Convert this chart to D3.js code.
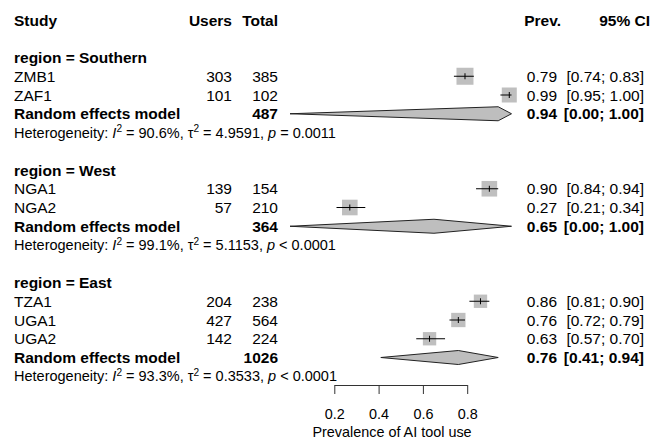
<!DOCTYPE html>
<html>
<head>
<meta charset="utf-8">
<script src="https://cdn.jsdelivr.net/npm/d3@7"></script>
<style>
  html, body { margin: 0; padding: 0; background: #fff; }
  svg { display: block; font-family: "Liberation Sans", Arial, sans-serif; }
</style>
</head>
<body>
<svg id="chart" width="653" height="443"></svg>
<script>
// Study-level data
const studies = ["ZMB1", "ZAF1", "NGA1", "NGA2", "TZA1", "UGA1", "UGA2"];
const studyRegion = ["Southern", "Southern", "West", "West", "East", "East", "East"];
const users = [303, 101, 139, 57, 204, 427, 142];
const totals = [385, 102, 154, 210, 238, 564, 224];
const prev = [0.79, 0.99, 0.90, 0.27, 0.86, 0.76, 0.63];
const lower = [0.74, 0.95, 0.84, 0.21, 0.81, 0.72, 0.57];
const upper = [0.83, 1.00, 0.94, 0.34, 0.90, 0.79, 0.70];
const weights = [18.5, 14.4, 15.6, 15.6, 11.4, 13.1, 11.4];

// Subgroup (random effects) results
const regions = ["Southern", "West", "East"];
const pooledTotal = [487, 364, 1026];
const pooledPrev = [0.94, 0.65, 0.76];
const pooledLower = [0.00, 0.00, 0.41];
const pooledUpper = [1.00, 1.00, 0.94];
const hetI2 = ["90.6%", "99.1%", "93.3%"];
const hetTau2 = ["4.9591", "5.1153", "0.3533"];
const hetP = ["= 0.0011", "< 0.0001", "< 0.0001"];

// Axis
const axisTicks = [0.2, 0.4, 0.6, 0.8];
const axisTitle = "Prevalence of AI tool use";

const svg = d3.select("#chart");
const fs = 15.5;      // table text
const fsHet = 14.5;   // heterogeneity statistics
const fsAxis = 14.4;  // axis labels and title
const rowH = 18.75;
const rowY = n => 20 + n * rowH;

const x = d3.scaleLinear().domain([0, 1]).range([290, 511.5]);
const sq = d3.scaleSqrt().domain([0, d3.max(weights)]).range([0, 17]);

const colStudy = 14, colUsers = 232, colTotal = 278, colPrev = 557, colCI = 644;
const fmt = d3.format(".2f");

function txt(g, xPos, y, s, anchor, bold) {
  return g.append("text")
    .attr("x", xPos).attr("y", y).attr("dy", "0.36em")
    .attr("text-anchor", anchor || "start")
    .attr("font-size", fs)
    .attr("font-weight", bold ? "bold" : "normal")
    .attr("fill", "#000")
    .text(s);
}

// Column headers
const head = svg.append("g");
txt(head, colStudy, rowY(0), "Study", "start", true);
txt(head, colUsers, rowY(0), "Users", "end", true);
txt(head, colTotal, rowY(0), "Total", "end", true);
txt(head, 561, rowY(0), "Prev.", "end", true);
txt(head, 650, rowY(0), "95% CI", "end", true);

let row = 2;
regions.forEach((reg, gi) => {
  const g = svg.append("g");
  txt(g, colStudy, rowY(row), "region = " + reg, "start", true);
  row++;

  studies.forEach((s, i) => {
    if (studyRegion[i] !== reg) return;
    const y = rowY(row);
    txt(g, colStudy, y, s);
    txt(g, colUsers, y, users[i], "end");
    txt(g, colTotal, y, totals[i], "end");
    txt(g, colPrev, y, fmt(prev[i]), "end");
    txt(g, colCI, y, "[" + fmt(lower[i]) + "; " + fmt(upper[i]) + "]", "end");

    const size = sq(weights[i]);
    g.append("rect")
      .attr("x", x(prev[i]) - size / 2).attr("y", y - size / 2)
      .attr("width", size).attr("height", size)
      .attr("fill", "#bfbfbf");
    g.append("line")
      .attr("x1", x(lower[i])).attr("x2", x(upper[i]))
      .attr("y1", y).attr("y2", y)
      .attr("stroke", "#000").attr("stroke-width", 1);
    g.append("line")
      .attr("x1", x(prev[i])).attr("x2", x(prev[i]))
      .attr("y1", y - 3).attr("y2", y + 3)
      .attr("stroke", "#000").attr("stroke-width", 1);
    row++;
  });

  // Random effects model row
  const y = rowY(row);
  txt(g, colStudy, y, "Random effects model", "start", true);
  txt(g, colTotal, y, pooledTotal[gi], "end", true);
  txt(g, colPrev, y, fmt(pooledPrev[gi]), "end", true);
  txt(g, colCI, y, "[" + fmt(pooledLower[gi]) + "; " + fmt(pooledUpper[gi]) + "]", "end", true);
  const h = 7;
  g.append("path")
    .attr("d", d3.line()([
      [x(pooledLower[gi]), y],
      [x(pooledPrev[gi]), y - h],
      [x(pooledUpper[gi]), y],
      [x(pooledPrev[gi]), y + h]
    ]) + "Z")
    .attr("fill", "#bebebe")
    .attr("stroke", "#222")
    .attr("stroke-width", 1);
  row++;

  // Heterogeneity line
  const t = g.append("text")
    .attr("x", colStudy).attr("y", rowY(row)).attr("dy", "0.36em")
    .attr("font-size", fsHet).attr("fill", "#000");
  t.append("tspan").text("Heterogeneity: ");
  t.append("tspan").attr("font-style", "italic").text("I");
  t.append("tspan").attr("font-size", fsHet * 0.7).attr("dy", "-0.55em").text("2");
  t.append("tspan").attr("dy", "0.385em").text(" = " + hetI2[gi] + ", \u03c4");
  t.append("tspan").attr("font-size", fsHet * 0.7).attr("dy", "-0.55em").text("2");
  t.append("tspan").attr("dy", "0.385em").text(" = " + hetTau2[gi] + ", ");
  t.append("tspan").attr("font-style", "italic").text("p");
  t.append("tspan").text(" " + hetP[gi]);
  row += 2;
});

// Bottom axis spanning the tick range
const axisScale = d3.scaleLinear()
  .domain(d3.extent(axisTicks))
  .range([x(d3.min(axisTicks)), x(d3.max(axisTicks))]);
const ax = svg.append("g")
  .attr("transform", "translate(0,385)")
  .call(d3.axisBottom(axisScale)
    .tickValues(axisTicks)
    .tickFormat(d3.format(".1f"))
    .tickSize(9)
    .tickSizeOuter(0)
    .tickPadding(15));
ax.select(".domain").attr("stroke", "#333");
ax.selectAll(".tick line").attr("stroke", "#333");
ax.selectAll(".tick text")
  .attr("font-size", fsAxis)
  .attr("font-family", "Liberation Sans, Arial, sans-serif")
  .attr("fill", "#000");

svg.append("text")
  .attr("x", 392).attr("y", 431.5).attr("dy", "0.36em")
  .attr("text-anchor", "middle")
  .attr("font-size", fsAxis).attr("fill", "#000")
  .text(axisTitle);
</script>
</body>
</html>
